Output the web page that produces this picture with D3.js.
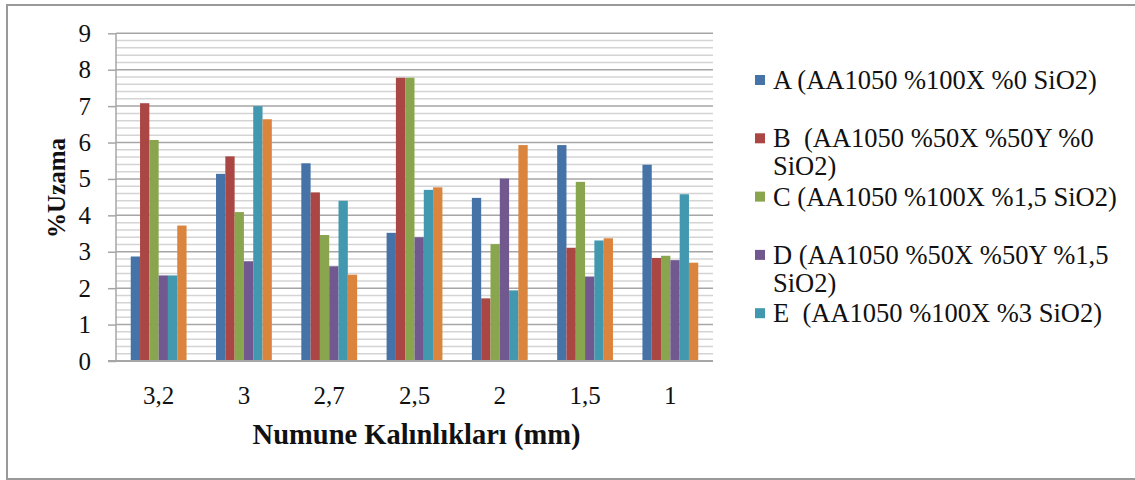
<!DOCTYPE html>
<html>
  <head>
    <meta charset="UTF-8">
    <title></title>
    <style>
    body { margin: 0; background: #fff; }
    svg { display: block; font-family: "Liberation Serif", "DejaVu Serif", serif; }
    </style>
  </head>
  <body>
    <svg id="chart" width="1135" height="480"></svg>
  </body>
  <script src="https://cdn.jsdelivr.net/npm/d3@7"></script>
  <script>
  var categories = ["3,2", "3", "2,7", "2,5", "2", "1,5", "1"];
  var seriesA = [2.87, 5.14, 5.43, 3.52, 4.48, 5.93, 5.39];
  var seriesB = [7.08, 5.62, 4.63, 7.78, 1.72, 3.11, 2.83];
  var seriesC = [6.07, 4.09, 3.46, 7.78, 3.21, 4.92, 2.89];
  var seriesD = [2.35, 2.74, 2.60, 3.40, 5.01, 2.32, 2.77];
  var seriesE = [2.35, 7.00, 4.40, 4.70, 1.94, 3.31, 4.58];
  var seriesF = [3.72, 6.64, 2.37, 4.77, 5.93, 3.37, 2.70];
  var yTicks = [0, 1, 2, 3, 4, 5, 6, 7, 8, 9];

  // legend only lists the first five, like the original
  var legendLines = [
    ["A (AA1050 %100X %0 SiO2)"],
    ["B  (AA1050 %50X %50Y %0", "SiO2)"],
    ["C (AA1050 %100X %1,5 SiO2)"],
    ["D (AA1050 %50X %50Y %1,5", "SiO2)"],
    ["E  (AA1050 %100X %3 SiO2)"]
  ];

  var series = [
    { key: "A", values: seriesA, color: "#4572A7" },
    { key: "B", values: seriesB, color: "#AA4643" },
    { key: "C", values: seriesC, color: "#89A54E" },
    { key: "D", values: seriesD, color: "#71588F" },
    { key: "E", values: seriesE, color: "#4198AF" },
    { key: "F", values: seriesF, color: "#DB843D" }
  ];

  var plotLeft = 116, plotRight = 713, plotTop = 33.3, plotBottom = 361;

  var svg = d3.select("#chart");

  // outer frame
  svg.append("rect")
    .attr("x", 7).attr("y", 5)
    .attr("width", 1140).attr("height", 474)
    .style("fill", "none")
    .style("stroke", "#999")
    .style("stroke-width", 2);

  var x0 = d3.scaleBand().domain(categories).range([plotLeft, plotRight]);
  var x1 = d3.scaleBand().domain(series.map(function(s) { return s.key; }))
    .range([0, x0.bandwidth()])
    .paddingOuter(1.585);
  var y = d3.scaleLinear().domain([0, 9]).range([plotBottom, plotTop]);

  // minor grid every 0.2
  var minor = d3.range(0, 9.01, 0.2).filter(function(v) { return Math.abs(v - Math.round(v)) > 0.01; });
  svg.append("g").selectAll("line")
    .data(minor)
    .enter().append("line")
    .attr("x1", plotLeft).attr("x2", plotRight)
    .attr("y1", function(d) { return y(d); })
    .attr("y2", function(d) { return y(d); })
    .style("stroke", "#d4d4d4")
    .style("stroke-width", 1.5);

  // major grid
  svg.append("g").selectAll("line")
    .data(yTicks.slice(1))
    .enter().append("line")
    .attr("x1", plotLeft).attr("x2", plotRight)
    .attr("y1", function(d) { return y(d); })
    .attr("y2", function(d) { return y(d); })
    .style("stroke", "#a6a6a6")
    .style("stroke-width", 1.5);

  // bars
  var groups = svg.append("g").selectAll("g")
    .data(series)
    .enter().append("g")
    .style("fill", function(s) { return s.color; });

  groups.selectAll("rect")
    .data(function(s) { return s.values.map(function(v, i) { return { key: s.key, cat: categories[i], v: v }; }); })
    .enter().append("rect")
    .attr("x", function(d) { return x0(d.cat) + x1(d.key); })
    .attr("width", x1.bandwidth())
    .attr("y", function(d) { return y(d.v); })
    .attr("height", function(d) { return plotBottom - y(d.v); });

  // axes
  var yAxis = svg.append("g")
    .attr("transform", "translate(" + plotLeft + ",0)")
    .call(d3.axisLeft(y).tickValues(yTicks).tickSize(8).tickPadding(17).tickFormat(d3.format("d")));
  yAxis.select(".domain").remove();
  yAxis.selectAll("line").style("stroke", "#a6a6a6").style("stroke-width", 1.5);
  yAxis.selectAll("text")
    .style("font-family", "Liberation Serif")
    .style("font-size", "25px")
    .style("fill", "#111");
  svg.append("line")
    .attr("x1", plotLeft).attr("x2", plotLeft)
    .attr("y1", plotTop).attr("y2", plotBottom)
    .style("stroke", "#a6a6a6").style("stroke-width", 1.5);

  svg.append("line")
    .attr("x1", plotLeft - 8).attr("x2", plotRight)
    .attr("y1", plotBottom).attr("y2", plotBottom)
    .style("stroke", "#a6a6a6").style("stroke-width", 2);

  svg.append("g").selectAll("text")
    .data(categories)
    .enter().append("text")
    .attr("x", function(d) { return x0(d) + x0.bandwidth() / 2; })
    .attr("y", 404)
    .attr("text-anchor", "middle")
    .style("font-size", "25px")
    .style("fill", "#111")
    .text(function(d) { return d; });

  // titles
  svg.append("text")
    .attr("x", (plotLeft + plotRight) / 2 + 2)
    .attr("y", 444)
    .attr("text-anchor", "middle")
    .style("font-size", "28.5px")
    .style("font-weight", "bold")
    .style("fill", "#111")
    .text("Numune Kalınlıkları (mm)");

  svg.append("text")
    .attr("transform", "translate(65,188) rotate(-90)")
    .attr("text-anchor", "middle")
    .style("font-size", "25px")
    .style("font-weight", "bold")
    .style("fill", "#111")
    .text("%Uzama");

  // legend
  var legend = svg.append("g").selectAll("g")
    .data(legendLines)
    .enter().append("g")
    .attr("transform", function(d, i) { return "translate(755," + (80 + i * 58.3) + ")"; });

  legend.append("rect")
    .attr("x", 0).attr("y", -5)
    .attr("width", 10).attr("height", 10)
    .style("fill", function(d, i) { return series[i].color; });

  legend.append("text")
    .attr("x", 18)
    .attr("y", 9)
    .style("font-size", "26.5px")
    .style("fill", "#111")
    .style("white-space", "pre")
    .selectAll("tspan")
    .data(function(d) { return d; })
    .enter().append("tspan")
    .attr("x", 18)
    .attr("dy", function(d, i) { return i === 0 ? 0 : 28; })
    .text(function(d) { return d; });
  </script>
</html>
